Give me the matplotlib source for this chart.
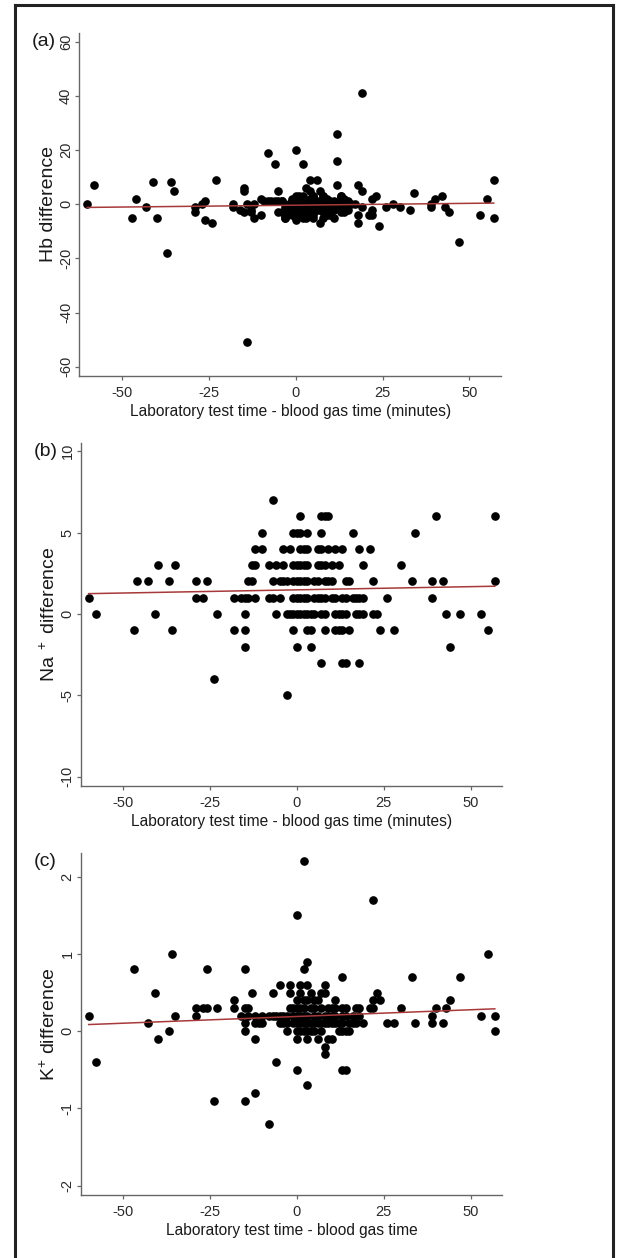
import matplotlib
matplotlib.use("Agg")
import matplotlib.pyplot as plt
from matplotlib.lines import Line2D

plt.rcParams['font.family'] = ['Liberation Sans', 'DejaVu Sans']
plt.rcParams['mathtext.default'] = 'regular'
plt.rcParams['axes.unicode_minus'] = False

# (a) Hb difference vs time difference (minutes)
hb_x = [-60, -58, -46, -47, -43, -41, -40, -37, -36, -35, -29, -29, -27, -26, -26,
        -24, -23, -18, -18, -16, -15, -15, -15, -14, -14, -13, -13, -12, -12, -10,
        -10, -8, -6, -5, -5, -4, -3, -3, 0, 2, 3, 4, 4, 6, 5, 7, 8, 7,
        12, 12, 12, 13, 18, 19, 19, 18, 18, 22, 23, 21, 22, 22, 24, 26, 28, 30,
        33, 34, 39, 39, 40, 42, 43, 44, 47, 53, 55, 57, 57]
hb_y = [0, 7, 2, -5, -1, 8, -5, -18, 8, 5, -1, -3, 0, 1, -6,
        -7, 9, 0, -1, -2, 6, 5, -3, 0, -51, -2, -3, 0, -5, 2,
        -4, 19, 15, 5, -3, 1, -4, -5, 20, 15, 6, 5, 9, 9, 3, 5, 3, -7,
        26, 16, 7, 3, 7, 5, 41, -7, -4, 2, 3, -4, -4, -2, -8, -1, 0, -1,
        -2, 4, 0, -1, 2, 3, -1, -3, -14, -4, 2, 9, -5]
# dense centre of panel (a): y level -> x values
hb_levels = [3, 2, 1, 0, -1, -2, -3, -4, -5, -6]
hb_times = [[0, 1, 2, 5, 8, 13],
            [-1, 1, 4, 9, 13, 14],
            [-9, -8, -7, -6, -5, -4, -1, 0, 1, 2, 3, 6, 8, 10, 11, 14, 15],
            [-2, 0, 1, 2, 3, 4, 5, 7, 9, 11, 12, 13, 15, 16, 17],
            [-3, -1, 0, 1, 2, 3, 5, 6, 8, 10, 12, 14, 19],
            [-2, 0, 1, 2, 4, 6, 7, 9, 11, 13, 15],
            [-4, -2, -1, 0, 1, 2, 3, 5, 8, 9, 13, 14],
            [-1, 0, 1, 2, 5, 9, 10],
            [-3, 0, 2, 3, 5, 8, 11],
            [0]]

# (b) Na+ difference: y level -> x values
na_levels = [7, 6, 5, 4, 3, 2, 1, 0, -1, -2, -3, -4, -5]
na_times = [[-7],
            [1, 7, 8, 9, 40, 57],
            [-10, -1, 0, 1, 3, 7, 16, 34],
            [-12, -10, -4, -2, 1, 2, 3, 6, 7, 9, 11, 13, 18, 21],
            [-40, -35, -13, -12, -8, -6, -4, -1, 0, 1, 2, 3, 6, 7, 8, 10, 12, 19, 30],
            [-46, -43, -37, -29, -26, -14, -13, -7, -5, -4, -3, -1, 0, 1, 2, 3, 5, 6,
             8, 9, 10, 14, 15, 22, 33, 39, 42, 57],
            [-60, -29, -27, -18, -16, -15, -14, -12, -8, -7, -5, -1, 0, 1, 2, 3, 5, 6,
             7, 8, 10, 11, 13, 14, 16, 17, 18, 19, 26, 39],
            [-58, -41, -23, -15, -6, -3, -2, -1, 0, 1, 2, 3, 4, 5, 7, 8, 11, 12, 13,
             14, 17, 18, 19, 22, 23, 43, 47, 53],
            [-47, -36, -18, -15, -1, 3, 4, 8, 11, 12, 13, 15, 24, 28, 55],
            [-15, 0, 4, 44],
            [7, 13, 14, 18],
            [-24],
            [-3]]

# (c) K+ difference: y level -> x values
k_levels = [2.2, 1.7, 1.5, 1.0, 0.9, 0.8, 0.7, 0.6, 0.5, 0.4, 0.3, 0.2, 0.1, 0.0,
            -0.1, -0.2, -0.3, -0.4, -0.5, -0.7, -0.8, -0.9, -1.2]
k_times = [[2], [22], [0], [-36, 55], [3],
           [-47, -26, -15, 2],
           [13, 33, 47],
           [-5, -2, 1, 3, 8],
           [-41, -13, -7, -2, 1, 4, 7, 8, 23],
           [-18, 0, 2, 3, 5, 6, 11, 22, 24, 44],
           [-29, -27, -26, -23, -18, -15, -14, -2, -1, 0, 1, 2, 4, 5, 7, 9, 10, 11,
            13, 14, 17, 18, 21, 22, 30, 40, 43],
           [-60, -35, -29, -16, -14, -12, -10, -8, -7, -6, -5, -4, -3, -1, 0, 1, 2, 3,
            5, 6, 8, 9, 10, 11, 13, 14, 16, 18, 39, 53, 57],
           [-43, -15, -12, -11, -10, -5, -4, -3, -1, 0, 1, 2, 3, 4, 5, 6, 7, 8, 9,
            10, 11, 12, 13, 15, 16, 17, 19, 26, 28, 34, 39, 42],
           [-37, -15, -3, 0, 1, 2, 3, 4, 5, 7, 12, 13, 14, 15, 57],
           [-40, -12, 0, 3, 6, 9, 10],
           [8], [8], [-58, -6], [0, 13, 14], [3], [-12], [-24, -15], [-8]]

# fitted lines: intercept, slope
hb_fit = (-0.38, 0.0137)
na_fit = (1.48, 0.0039)
k_fit = (0.19, 0.00174)

xticks = [-50, -25, 0, 25, 50]


def expand(levels, times):
    xs, ys = [], []
    for lev, row in zip(levels, times):
        xs += row
        ys += [lev] * len(row)
    return xs, ys


hb_cx, hb_cy = expand(hb_levels, hb_times)
na_x, na_y = expand(na_levels, na_times)
k_x, k_y = expand(k_levels, k_times)

fig = plt.figure(figsize=(6.17, 12.58), dpi=100)

panels = [
    ('(a)', hb_x + hb_cx, hb_y + hb_cy, hb_fit, 'Hb difference', [-60, -40, -20, 0, 20, 40, 60],
     (-63.3, 63.2), 'Laboratory test time - blood gas time (minutes)', [0.1285, 0.7014, 0.6835, 0.2724]),
    ('(b)', na_x, na_y, na_fit, 'Na$^{\\ +}$ difference', [-10, -5, 0, 5, 10],
     (-10.55, 10.5), 'Laboratory test time - blood gas time (minutes)', [0.1308, 0.3754, 0.6830, 0.2725]),
    ('(c)', k_x, k_y, k_fit, 'K$^{+}$ difference', [-2, -1, 0, 1, 2],
     (-2.12, 2.31), 'Laboratory test time - blood gas time', [0.1308, 0.0501, 0.6830, 0.2721]),
]

for tag, xs, ys, fit, ylab, yticks, ylim, xlab, rect in panels:
    ax = fig.add_axes(rect)
    ax.plot(xs, ys, 'o', color='black', ms=5.2, mec='black', zorder=3)
    x0, x1 = min(xs), max(xs)
    ax.plot([x0, x1], [fit[0] + fit[1] * x0, fit[0] + fit[1] * x1],
            color='#a8393a', lw=1.1, zorder=4)
    ax.set_xlim(-62.3, 59.1)
    ax.set_ylim(*ylim)
    ax.set_xticks(xticks)
    ax.set_yticks(yticks)
    ax.set_yticklabels([str(t) for t in yticks], rotation=90, va='center')
    for s in ['top', 'right']:
        ax.spines[s].set_visible(False)
    for s in ['left', 'bottom']:
        ax.spines[s].set_color('#666666')
        ax.spines[s].set_linewidth(1.0)
    ax.tick_params(direction='out', length=3, width=0.9, color='#666666',
                   labelsize=10.5, labelcolor='#2a2a2a')
    ax.tick_params(axis='x', pad=4.5)
    ax.tick_params(axis='y', pad=1.5)
    ax.set_xlabel(xlab, fontsize=11.2, color='#1a1a1a', labelpad=2.5)
    ax.set_ylabel(ylab, fontsize=14, color='#1a1a1a', labelpad=1.5)
    ax.text(-0.112, 1.0, tag, transform=ax.transAxes, fontsize=14,
            va='top', ha='left', color='#1a1a1a')

# outer frame (left, top, right edges)
fig.add_artist(Line2D([15 / 617, 15 / 617], [0, 1 - 5 / 1258], color='#222222', lw=2.2))
fig.add_artist(Line2D([15 / 617, 613 / 617], [1 - 5 / 1258, 1 - 5 / 1258], color='#222222', lw=2.2))
fig.add_artist(Line2D([613 / 617, 613 / 617], [0, 1 - 5 / 1258], color='#222222', lw=2.2))

fig.savefig('out.png', dpi=100, facecolor='white')
